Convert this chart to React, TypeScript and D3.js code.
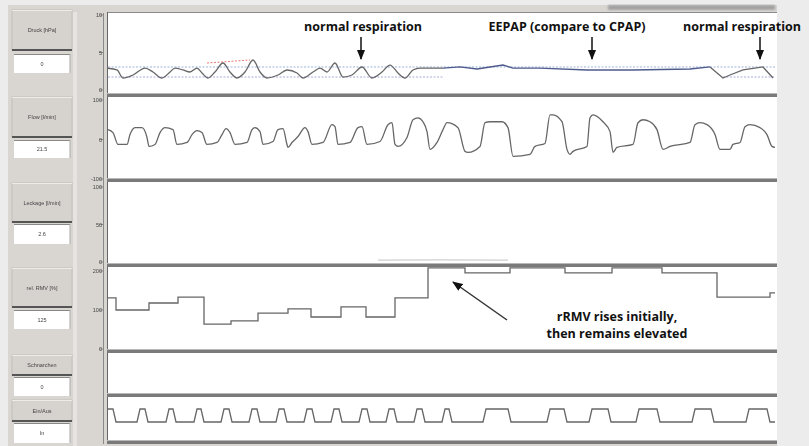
import React from "react";
import * as d3 from "d3";

// ---- recording data (time in seconds) ----
const timeDomain: [number, number] = [0, 133.4];

// mask pressure [hPa]
const pressureNormalA: [number, number][] = [
  [0, 2.9], [1.8, 2.67], [3, 1.6], [5, 2.0], [7.4, 2.93], [9, 2.4], [10.8, 1.6], [12.4, 2.4],
  [13.4, 2.93], [15, 2.67], [16.4, 2.4], [17.8, 2.93], [18.8, 2.27], [20, 1.6], [21.4, 2.4],
  [23, 3.6], [24.4, 2.4], [25.8, 1.6], [27.4, 2.4], [29, 4.0], [30.4, 2.4], [31.8, 1.6],
  [34, 2.0], [35.8, 2.67], [37.8, 2.27], [39, 1.6], [41, 2.4], [42.4, 2.93], [43.8, 2.4],
  [45.4, 3.6], [47, 1.73], [48.8, 2.0], [50.8, 3.07], [52.8, 1.6], [54.8, 2.4], [56.4, 3.33],
  [58, 2.27], [59.4, 1.6], [61, 2.67], [62.4, 2.93], [65, 2.93], [67, 2.93],
];
const pressureEepap: [number, number][] = [
  [67, 2.93], [70.4, 3.07], [73.8, 2.8], [79, 3.33], [81, 2.93], [86.4, 2.93], [95.8, 2.67],
  [105, 2.67], [116.4, 2.8], [120.4, 3.07],
];
const pressureNormalB: [number, number][] = [
  [120.4, 3.07], [123, 1.6], [124.4, 2.0], [127, 2.67], [131, 3.07], [133, 1.6],
];
const pressureSetUpper = 3.07;
const pressureSetLower = 1.73;
const pressureLimit: [number, number][] = [[19.8, 3.6], [28.4, 4.0]];

// respiratory flow [l/min]
const flow: [number, number][] = [
  [0, 25], [1, 17.5], [2, -12.5], [3.8, -12.5], [4.4, 12.5], [5.4, 30], [6.8, 30], [7.8, 5],
  [8.2, -17.5], [9.4, -12.5], [10.4, 17.5], [11.4, 30], [13, 25], [13.8, -12.5], [15.8, -7.5],
  [16.8, 12.5], [17.8, 22.5], [18.8, 17.5], [19.8, -12.5], [21.8, -7.5], [22.8, 12.5],
  [23.6, 27.5], [24.4, 17.5], [25.4, -12.5], [27.8, -7.5], [28.8, 25], [29.4, 30], [30.4, 20],
  [31, -12.5], [33, -5], [34, 25], [35, 27.5], [35.8, -12.5], [36, -20], [36.8, -7.5],
  [38, 7.5], [39.4, 30], [40, 20], [40.8, -12.5], [43, -7.5], [44.8, 37.5], [45.4, 32.5],
  [46, -12.5], [48.4, -7.5], [50, 30], [50.8, 32.5], [51.8, -12.5], [54.4, -5], [56, 37.5],
  [56.8, 42.5], [57.4, -12.5], [58, -17.5], [59.8, 5], [61, 50], [62, 55], [63, 45],
  [63.8, 20], [64.4, -25], [65.8, -7.5], [67, 25], [67.8, 42.5], [70, 30], [71.4, -30],
  [72, -32.5], [74.4, -17.5], [75.4, 42.5], [76.4, 45], [78.8, 45], [80, 30], [81, -42.5],
  [84.4, -37.5], [85.4, -17.5], [87.4, -10], [88.4, 62.5], [89, 62.5], [90.8, 45], [91.8, -25],
  [92.4, -37.5], [93, -30], [95.8, -17.5], [96.4, 55], [97, 62.5], [99, 45], [100.4, 20],
  [101, -32.5], [101.8, -20], [105, -12.5], [106, 42.5], [107, 50], [108.4, 45], [109.8, 25],
  [111, -25], [112.4, -17.5], [116.4, -7.5], [117.4, 37.5], [118.4, 42.5], [119.8, 37.5],
  [121.4, 12.5], [122.4, -25], [124.4, -25], [125, -12.5], [126.4, -7.5], [127.4, 32.5],
  [128.4, 37.5], [130.4, 30], [131.8, 12.5], [132.8, -17.5], [133.4, -20],
];

// leakage [l/min]
const leakage: [number, number][] = [[54, 2.6], [66, 2.8], [80, 2.6]];

// relative respiratory minute volume [%]
const relRmv: [number, number][] = [
  [0, 131], [1.6, 100], [8.2, 118], [14, 133], [19.2, 64], [24.6, 72], [30, 92], [36, 103],
  [40.6, 82], [46.6, 108], [51.6, 82], [57.4, 131], [64, 208], [71.4, 195], [80.4, 208],
  [91.4, 195], [100.8, 208], [110.8, 195], [121.8, 133], [132.4, 144], [133.4, 144],
];

// inspiration phases [start, end]
const inspirations: [number, number][] = [
  [0, 1.6], [5.8, 8], [11.6, 13.6], [17.2, 19.2], [22.6, 24.8], [28.2, 30.4], [33.6, 35.8],
  [39.2, 41.4], [44.6, 46.8], [50.2, 52.4], [55.6, 57.8], [61.2, 63.4], [66.8, 68.8],
  [75, 80.6], [87.8, 91.8], [96.2, 100.6], [105.6, 110.4], [116.8, 121.2], [127.6, 132.4],
];

const pressureTicks = ["0", "5", "10"];
const flowTicks = ["-100", "0", "100"];
const leakageTicks = ["0", "50", "100"];
const rmvTicks = ["0", "100", "200"];

const channelNames = ["Druck [hPa]", "Flow [l/min]", "Leckage [l/min]", "rel. RMV [%]", "Schnarchen", "Ein/Aus"];
const channelValues = ["0", "21.5", "2.6", "125", "0", "In"];

const notes = ["normal respiration", "EEPAP (compare to CPAP)", "normal respiration"];
const noteTimes = [50.6, 96.8, 130.4];
const rmvNote = ["rRMV rises initially,", "then remains elevated"];

// ---- layout ----
const PX0 = 107;
const PX1 = 777;
const panels = [
  { top: 12, bottom: 94, btn: [10, 50], val: [54, 73], domain: [0, 10], range: [90, 15], ticks: pressureTicks },
  { top: 98, bottom: 179, btn: [97, 137], val: [140, 158], domain: [-100, 100], range: [179, 100], ticks: flowTicks },
  { top: 183, bottom: 264, btn: [183, 222], val: [224, 244], domain: [0, 100], range: [262, 187], ticks: leakageTicks },
  { top: 268, bottom: 350, btn: [268, 307], val: [310, 329], domain: [0, 200], range: [349, 271], ticks: rmvTicks },
  { top: 354, bottom: 394, btn: [355, 375], val: [377, 396], domain: [0, 1], range: [390, 360], ticks: [] as string[] },
  { top: 400, bottom: 441, btn: [400, 421], val: [423, 443], domain: [0, 1], range: [422, 409], ticks: [] as string[] },
];

const TRACE = "#666666";
const SEP = "#7a7a7a";

export default function App() {
  const x = d3.scaleLinear().domain(timeDomain).range([108, 775]);
  const ys = panels.map((p) => d3.scaleLinear().domain(p.domain).range(p.range));

  const smooth = (y: d3.ScaleLinear<number, number>) =>
    d3.line<[number, number]>().x((d) => x(d[0])).y((d) => y(d[1])).curve(d3.curveMonotoneX);
  const straight = (y: d3.ScaleLinear<number, number>) =>
    d3.line<[number, number]>().x((d) => x(d[0])).y((d) => y(d[1]));
  const stepped = (y: d3.ScaleLinear<number, number>) =>
    d3.line<[number, number]>().x((d) => x(d[0])).y((d) => y(d[1])).curve(d3.curveStepAfter);

  // phase signal built from the inspiration intervals, with short ramps
  const ramp = 0.6;
  const phasePts: [number, number][] = [];
  inspirations.forEach(([s, e]) => {
    if (s <= timeDomain[0]) phasePts.push([timeDomain[0], 1]);
    else {
      phasePts.push([s, 0]);
      phasePts.push([s + ramp, 1]);
    }
    phasePts.push([e - ramp, 1]);
    phasePts.push([e, 0]);
  });
  phasePts.push([timeDomain[1], 0]);

  const tickVals = (i: number) => {
    const p = panels[i];
    return p.ticks.map((t) => ({ label: t, y: ys[i](+t) }));
  };

  const annFont = { fontFamily: "'Open Sans', sans-serif", fontWeight: 700, fontSize: 12.5, fill: "#111" };
  const tinyFont = { fontFamily: "'Liberation Sans', Arial, sans-serif", fontSize: 5.5, fill: "#444" };

  return (
    <svg width={809} height={446} style={{ position: "absolute", left: 0, top: 0, display: "block" }}>
      <defs>
        <marker id="ah" viewBox="0 0 10 10" refX="9" refY="5" markerWidth="7" markerHeight="7" orient="auto">
          <path d="M0,1 L10,5 L0,9 z" fill="#111" />
        </marker>
        <filter id="soft" x="-5%" y="-50%" width="110%" height="200%">
          <feGaussianBlur stdDeviation="0.35" />
        </filter>
        <filter id="blur1">
          <feGaussianBlur stdDeviation="0.9" />
        </filter>
      </defs>

      <rect x={0} y={0} width={809} height={446} fill="#ececec" />
      {/* application window */}
      <rect x={8} y={5} width={PX1 - 8} height={441} fill="#d9d5d1" />
      <rect x={73} y={12} width={4} height={434} fill="#e6e3e0" />
      <rect x={608} y={5} width={167} height={5} fill="#a2a2a2" filter="url(#blur1)" />

      {/* channel buttons and value boxes */}
      {panels.map((p, i) => (
        <g key={"btn" + i}>
          <rect x={12} y={p.btn[0]} width={60} height={p.btn[1] - p.btn[0]} fill="#d6d2ce" stroke="#bdb9b5" strokeWidth={0.8} />
          <line x1={12} x2={72} y1={p.btn[1]} y2={p.btn[1]} stroke="#555" strokeWidth={2} />
          <line x1={12} x2={72} y1={p.btn[0] + 0.5} y2={p.btn[0] + 0.5} stroke="#eeeae6" strokeWidth={1} />
          <text x={42} y={(p.btn[0] + p.btn[1]) / 2 + 2} textAnchor="middle" {...tinyFont} filter="url(#soft)">
            {channelNames[i]}
          </text>
          <rect x={14} y={p.val[0]} width={56} height={p.val[1] - p.val[0]} fill="#ffffff" />
          <line x1={14} x2={70} y1={p.val[0] + 0.5} y2={p.val[0] + 0.5} stroke="#888" strokeWidth={1} />
          <line x1={70} x2={70} y1={p.val[0]} y2={p.val[1]} stroke="#aaa" strokeWidth={1} />
          <text x={42} y={(p.val[0] + p.val[1]) / 2 + 2} textAnchor="middle" {...tinyFont} filter="url(#soft)">
            {channelValues[i]}
          </text>
        </g>
      ))}

      {/* plot area */}
      <rect x={PX0} y={12} width={PX1 - PX0} height={432} fill="#ffffff" />
      <line x1={PX0} x2={PX1} y1={12.5} y2={12.5} stroke="#8a8a8a" strokeWidth={1} />
      <line x1={103.5} x2={103.5} y1={13} y2={444} stroke="#8a8a8a" strokeWidth={1} />
      <line x1={PX0 + 0.5} x2={PX0 + 0.5} y1={12} y2={444} stroke="#666" strokeWidth={1} />

      {panels.map((p, i) => (
        <g key={"sep" + i}>
          <rect x={PX0} y={p.bottom} width={PX1 - PX0} height={3} fill={SEP} />
          <line x1={PX0} x2={PX1} y1={p.bottom - 0.5} y2={p.bottom - 0.5} stroke="#b8b8b8" strokeWidth={1} />
          {tickVals(i).map((t) => (
            <g key={t.label}>
              <line x1={99} x2={103} y1={t.y} y2={t.y} stroke="#777" strokeWidth={0.8} />
              <text x={102} y={t.y + 2} textAnchor="end" {...tinyFont} filter="url(#soft)">
                {t.label}
              </text>
            </g>
          ))}
        </g>
      ))}

      {/* pressure channel */}
      <line x1={x(timeDomain[0])} x2={x(timeDomain[1])} y1={ys[0](pressureSetUpper)} y2={ys[0](pressureSetUpper)}
        stroke="#9fb3dc" strokeWidth={1} strokeDasharray="2,1.5" />
      <line x1={x(timeDomain[0])} x2={x(67)} y1={ys[0](pressureSetLower)} y2={ys[0](pressureSetLower)}
        stroke="#a9addb" strokeWidth={1} strokeDasharray="2,1.5" />
      <line x1={x(123)} x2={x(timeDomain[1])} y1={ys[0](pressureSetLower)} y2={ys[0](pressureSetLower)}
        stroke="#a9addb" strokeWidth={1} strokeDasharray="2,1.5" />
      <path d={straight(ys[0])(pressureLimit) || ""} fill="none" stroke="#e77" strokeWidth={1} strokeDasharray="2,1.5" />
      <path d={smooth(ys[0])(pressureNormalA) || ""} fill="none" stroke={TRACE} strokeWidth={1.3} />
      <path d={straight(ys[0])(pressureEepap) || ""} fill="none" stroke="#4d5a8c" strokeWidth={1.3} />
      <path d={straight(ys[0])(pressureNormalB) || ""} fill="none" stroke={TRACE} strokeWidth={1.3} />

      {/* flow channel */}
      <path d={smooth(ys[1])(flow) || ""} fill="none" stroke={TRACE} strokeWidth={1.3} />

      {/* leakage channel */}
      <path d={straight(ys[2])(leakage) || ""} fill="none" stroke="#cfcfcf" strokeWidth={1.2} />

      {/* relative RMV channel */}
      <path d={stepped(ys[3])(relRmv) || ""} fill="none" stroke={TRACE} strokeWidth={1.3} />

      {/* inspiration / expiration channel */}
      <path d={straight(ys[5])(phasePts) || ""} fill="none" stroke={TRACE} strokeWidth={1.3} />

      {/* annotations */}
      {notes.map((n, i) => (
        <g key={"note" + i}>
          <text x={i === 2 ? x(noteTimes[i]) - 18 : x(noteTimes[i]) + (i === 1 ? -25 : 2)} y={31} textAnchor="middle" {...annFont}>
            {n}
          </text>
          <line x1={x(noteTimes[i])} x2={x(noteTimes[i])} y1={37} y2={59} stroke="#111" strokeWidth={1.5} markerEnd="url(#ah)" />
        </g>
      ))}
      <line x1={507} y1={320} x2={453} y2={282} stroke="#333" strokeWidth={1.5} markerEnd="url(#ah)" />
      <text x={617} y={321} textAnchor="middle" {...annFont}>{rmvNote[0]}</text>
      <text x={617} y={338} textAnchor="middle" {...annFont}>{rmvNote[1]}</text>
    </svg>
  );
}
